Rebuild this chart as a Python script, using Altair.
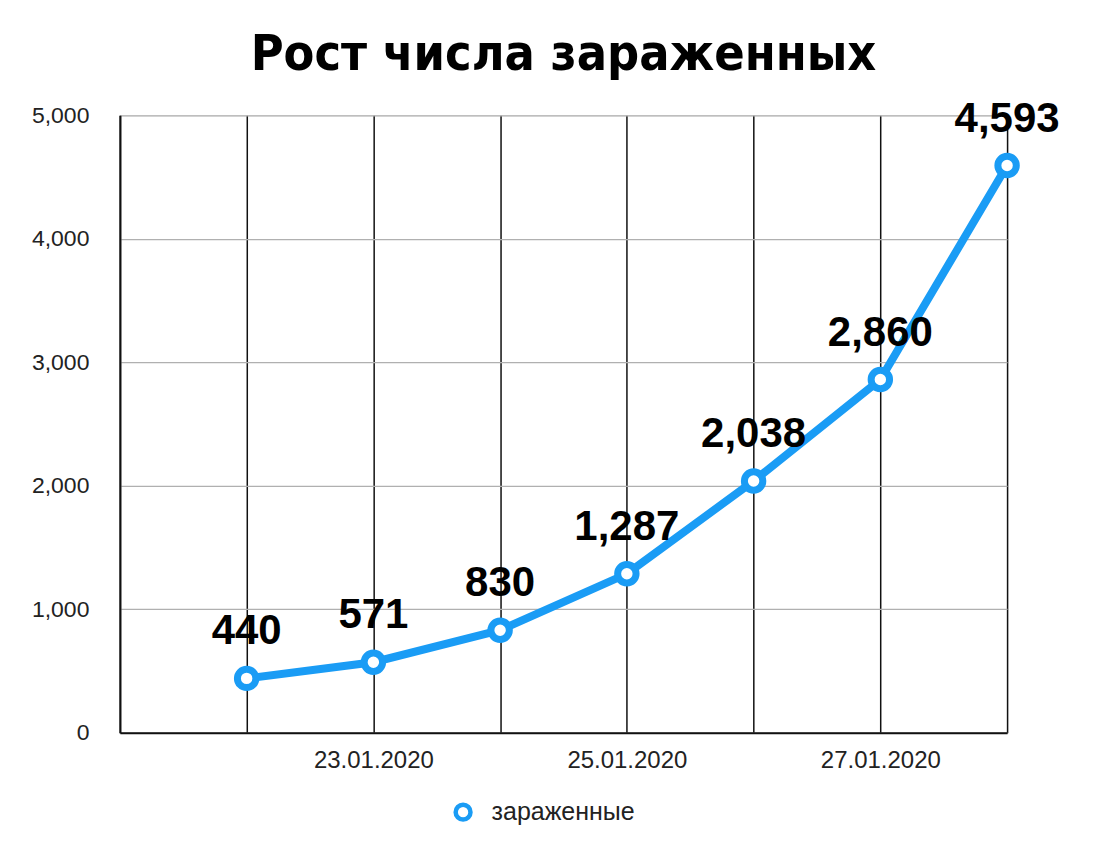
import altair as alt
import pandas as pd

dates = ["2020-01-22", "2020-01-23", "2020-01-24", "2020-01-25", "2020-01-26", "2020-01-27", "2020-01-28"]
infected = [440, 571, 830, 1287, 2038, 2860, 4593]
series_name = "зараженные"
axis_dates = ["2020-01-21", "2020-01-22", "2020-01-23", "2020-01-24", "2020-01-25", "2020-01-26", "2020-01-27", "2020-01-28"]
shown_labels = ["23.01.2020", "25.01.2020", "27.01.2020"]
y_ticks = [0, 1000, 2000, 3000, 4000, 5000]

BLUE = "#1a9cf5"

df = pd.DataFrame({"date": dates, "value": infected, "series": [series_name] * len(dates)})

label_list = "[" + ",".join("'" + s + "'" for s in shown_labels) + "]"
label_expr = f"indexof({label_list}, utcFormat(datum.value, '%d.%m.%Y')) >= 0 ? utcFormat(datum.value, '%d.%m.%Y') : ''"

x = alt.X("date:T", title=None,
          scale=alt.Scale(type="utc", domain=[axis_dates[0], axis_dates[-1]], nice=False),
          axis=alt.Axis(values=axis_dates, labelExpr=label_expr, grid=True, gridColor="#111111",
                        gridWidth=1.5, gridOpacity=1, ticks=False, domainColor="#111111",
                        domainWidth=2, labelPadding=16, labelFontSize=24, labelFont="Liberation Sans",
                        labelColor="#222222", labelOverlap=False))
y = alt.Y("value:Q", title=None,
          scale=alt.Scale(domain=[0, 5000], nice=False),
          axis=alt.Axis(values=y_ticks, format=",d", grid=True, gridColor="#b0b0b0", gridWidth=1.2,
                        ticks=False, domainColor="#111111", domainWidth=2, labelPadding=31,
                        labelFontSize=23, labelFont="Liberation Sans", labelColor="#222222"))

base = alt.Chart(df).encode(x=x, y=y)

line = base.mark_line(strokeWidth=8, color=BLUE)
points = base.mark_point(filled=True, fill="white", strokeWidth=7, size=340, shape="circle", opacity=1).encode(
    stroke=alt.Stroke("series:N", title=None, scale=alt.Scale(domain=[series_name], range=[BLUE]),
                      legend=alt.Legend(orient="none", legendX=331, legendY=685, symbolType="circle",
                                        symbolSize=220, symbolStrokeWidth=4.5, symbolFillColor="white",
                                        labelFontSize=25, labelFont="Liberation Sans", labelColor="#222222",
                                        labelOffset=16)))
labels = base.mark_text(dy=-47, fontSize=42, fontWeight="bold", font="Liberation Sans", color="black").encode(
    text=alt.Text("value:Q", format=",d"))

chart = alt.layer(line, points, labels).properties(
    width=888, height=618,
    padding={"left": 23, "top": 21, "right": 40, "bottom": 10},
    title=alt.TitleParams("Рост числа зараженных", fontSize=50, font="DejaVu Sans Condensed",
                          fontWeight="bold", color="black", anchor="middle", offset=18),
).configure_view(stroke="#111111", strokeWidth=2).configure(background="white")

chart.save("out.html", embed_options={"renderer": "svg", "actions": False})
